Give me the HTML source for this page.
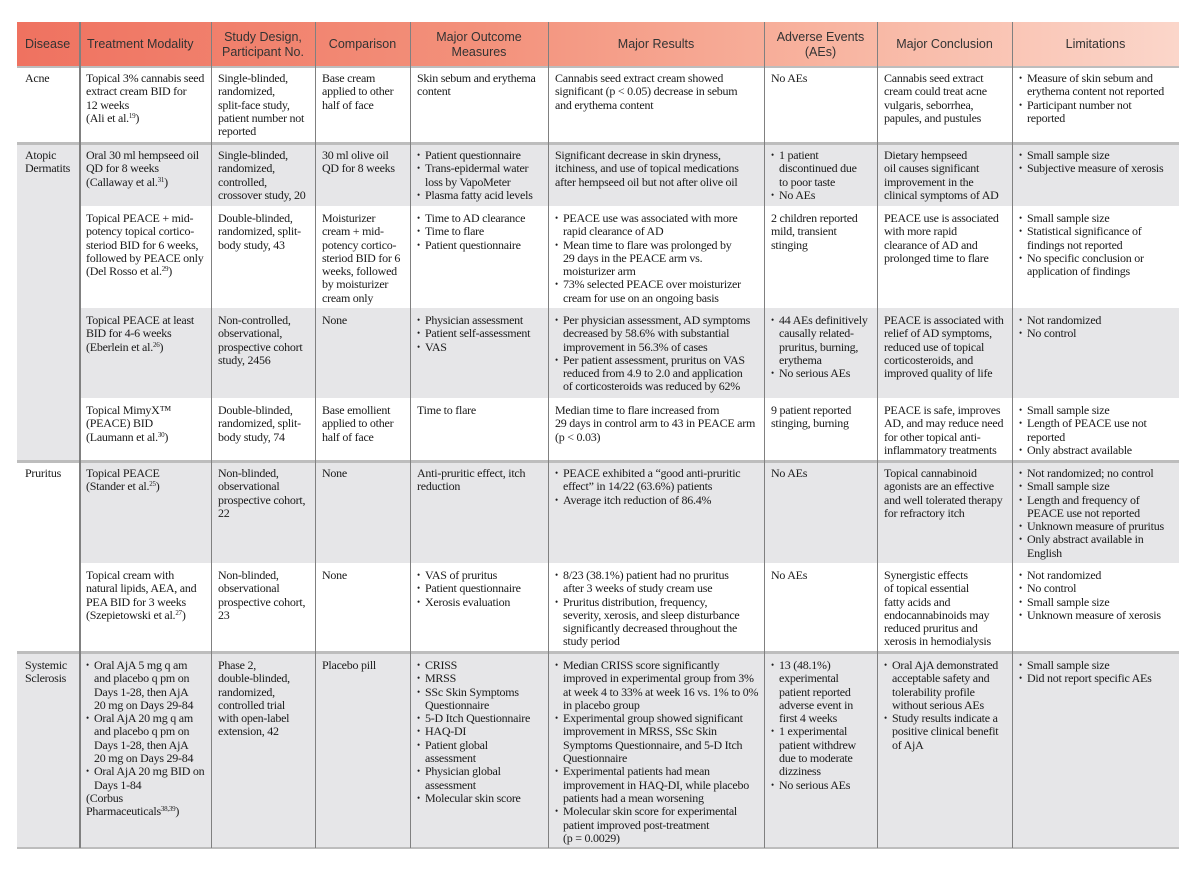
<!DOCTYPE html>
<html><head><meta charset="utf-8">
<style>
html,body{margin:0;padding:0;background:#fff;}
body{width:1200px;height:869px;position:relative;overflow:hidden;}
.s{position:absolute;}
.h{position:absolute;top:22px;height:45px;display:flex;align-items:center;justify-content:center;text-align:center;font:12.5px/15px "Liberation Sans",sans-serif;color:#333;}
.t{position:absolute;white-space:nowrap;font:12px/13.3px "Liberation Serif",serif;letter-spacing:-0.25px;color:#1a1a1a;}
.i{position:relative;padding-left:8px;}
.i:before{content:"\2022";position:absolute;left:0;top:0;font-size:9px;}
sup{font-size:7px;line-height:0;vertical-align:4px;}
.v{position:absolute;top:22px;height:826px;width:1px;background:#808080;}
.g{background:#e6e6e8;}
.sep{position:absolute;left:17px;width:1162px;height:3px;background:#bdbdbd;}
</style></head><body>
<div class="s" style="left:17px;top:22px;width:1162px;height:45px;background:linear-gradient(90deg,#ef7260 0%,#f3917b 40%,#f8b4a0 70%,#fbd6ca 100%);"></div>
<div class="s g" style="left:17px;top:143px;width:1162px;height:63px;"></div>
<div class="s g" style="left:17px;top:308px;width:1162px;height:90px;"></div>
<div class="s g" style="left:17px;top:143px;width:62px;height:318px;"></div>
<div class="s g" style="left:79px;top:461px;width:1100px;height:102px;"></div>
<div class="s g" style="left:17px;top:652px;width:1162px;height:196px;"></div>
<div class="sep" style="top:66px;height:2px;"></div>
<div class="sep" style="top:142px;"></div>
<div class="sep" style="top:460px;"></div>
<div class="sep" style="top:651px;"></div>
<div class="sep" style="top:847px;height:2px;"></div>
<div class="v" style="left:79px;width:2px;"></div>
<div class="v" style="left:211px;"></div>
<div class="v" style="left:315px;"></div>
<div class="v" style="left:410px;"></div>
<div class="v" style="left:548px;"></div>
<div class="v" style="left:764px;"></div>
<div class="v" style="left:877px;"></div>
<div class="v" style="left:1012px;"></div>

<div class="h" style="left:17px;width:62px;justify-content:flex-start;padding-left:8px;box-sizing:border-box;">Disease</div>
<div class="h" style="left:81px;width:130px;justify-content:flex-start;padding-left:6px;box-sizing:border-box;">Treatment Modality</div>
<div class="h" style="left:211px;width:104px;">Study Design,<br>Participant No.</div>
<div class="h" style="left:315px;width:95px;">Comparison</div>
<div class="h" style="left:410px;width:138px;">Major Outcome<br>Measures</div>
<div class="h" style="left:548px;width:216px;">Major Results</div>
<div class="h" style="left:764px;width:113px;">Adverse Events<br>(AEs)</div>
<div class="h" style="left:877px;width:135px;">Major Conclusion</div>
<div class="h" style="left:1012px;width:167px;">Limitations</div>

<div class="t" style="left:25px;top:72px;">Acne</div>
<div class="t" style="left:86px;top:72px;">Topical 3% cannabis seed<br>extract cream BID for<br>12 weeks<br>(Ali et al.<sup>19</sup>)</div>
<div class="t" style="left:218px;top:72px;">Single-blinded,<br>randomized,<br>split-face study,<br>patient number not<br>reported</div>
<div class="t" style="left:322px;top:72px;">Base cream<br>applied to other<br>half of face</div>
<div class="t" style="left:417px;top:72px;">Skin sebum and erythema<br>content</div>
<div class="t" style="left:555px;top:72px;">Cannabis seed extract cream showed<br>significant (p &lt; 0.05) decrease in sebum<br>and erythema content</div>
<div class="t" style="left:771px;top:72px;">No AEs</div>
<div class="t" style="left:884px;top:72px;">Cannabis seed extract<br>cream could treat acne<br>vulgaris, seborrhea,<br>papules, and pustules</div>
<div class="t" style="left:1019px;top:72px;"><div class="i">Measure of skin sebum and<br>erythema content not reported</div><div class="i">Participant number not<br>reported</div></div>

<div class="t" style="left:25px;top:149px;">Atopic<br>Dermatits</div>
<div class="t" style="left:86px;top:149px;">Oral 30 ml hempseed oil<br>QD for 8 weeks<br>(Callaway et al.<sup>31</sup>)</div>
<div class="t" style="left:218px;top:149px;">Single-blinded,<br>randomized,<br>controlled,<br>crossover study, 20</div>
<div class="t" style="left:322px;top:149px;">30 ml olive oil<br>QD for 8 weeks</div>
<div class="t" style="left:417px;top:149px;"><div class="i">Patient questionnaire</div><div class="i">Trans-epidermal water<br>loss by VapoMeter</div><div class="i">Plasma fatty acid levels</div></div>
<div class="t" style="left:555px;top:149px;">Significant decrease in skin dryness,<br>itchiness, and use of topical medications<br>after hempseed oil but not after olive oil</div>
<div class="t" style="left:771px;top:149px;"><div class="i">1 patient<br>discontinued due<br>to poor taste</div><div class="i">No AEs</div></div>
<div class="t" style="left:884px;top:149px;">Dietary hempseed<br>oil causes significant<br>improvement in the<br>clinical symptoms of AD</div>
<div class="t" style="left:1019px;top:149px;"><div class="i">Small sample size</div><div class="i">Subjective measure of xerosis</div></div>

<div class="t" style="left:86px;top:212px;">Topical PEACE + mid-<br>potency topical cortico-<br>steriod BID for 6 weeks,<br>followed by PEACE only<br>(Del Rosso et al.<sup>29</sup>)</div>
<div class="t" style="left:218px;top:212px;">Double-blinded,<br>randomized, split-<br>body study, 43</div>
<div class="t" style="left:322px;top:212px;">Moisturizer<br>cream + mid-<br>potency cortico-<br>steriod BID for 6<br>weeks, followed<br>by moisturizer<br>cream only</div>
<div class="t" style="left:417px;top:212px;"><div class="i">Time to AD clearance</div><div class="i">Time to flare</div><div class="i">Patient questionnaire</div></div>
<div class="t" style="left:555px;top:212px;"><div class="i">PEACE use was associated with more<br>rapid clearance of AD</div><div class="i">Mean time to flare was prolonged by<br>29 days in the PEACE arm vs.<br>moisturizer arm</div><div class="i">73% selected PEACE over moisturizer<br>cream for use on an ongoing basis</div></div>
<div class="t" style="left:771px;top:212px;">2 children reported<br>mild, transient<br>stinging</div>
<div class="t" style="left:884px;top:212px;">PEACE use is associated<br>with more rapid<br>clearance of AD and<br>prolonged time to flare</div>
<div class="t" style="left:1019px;top:212px;"><div class="i">Small sample size</div><div class="i">Statistical significance of<br>findings not reported</div><div class="i">No specific conclusion or<br>application of findings</div></div>

<div class="t" style="left:86px;top:314px;">Topical PEACE at least<br>BID for 4-6 weeks<br>(Eberlein et al.<sup>26</sup>)</div>
<div class="t" style="left:218px;top:314px;">Non-controlled,<br>observational,<br>prospective cohort<br>study, 2456</div>
<div class="t" style="left:322px;top:314px;">None</div>
<div class="t" style="left:417px;top:314px;"><div class="i">Physician assessment</div><div class="i">Patient self-assessment</div><div class="i">VAS</div></div>
<div class="t" style="left:555px;top:314px;"><div class="i">Per physician assessment, AD symptoms<br>decreased by 58.6% with substantial<br>improvement in 56.3% of cases</div><div class="i">Per patient assessment, pruritus on VAS<br>reduced from 4.9 to 2.0 and application<br>of corticosteroids was reduced by 62%</div></div>
<div class="t" style="left:771px;top:314px;"><div class="i">44 AEs definitively<br>causally related-<br>pruritus, burning,<br>erythema</div><div class="i">No serious AEs</div></div>
<div class="t" style="left:884px;top:314px;">PEACE is associated with<br>relief of AD symptoms,<br>reduced use of topical<br>corticosteroids, and<br>improved quality of life</div>
<div class="t" style="left:1019px;top:314px;"><div class="i">Not randomized</div><div class="i">No control</div></div>

<div class="t" style="left:86px;top:404px;">Topical MimyX™<br>(PEACE) BID<br>(Laumann et al.<sup>30</sup>)</div>
<div class="t" style="left:218px;top:404px;">Double-blinded,<br>randomized, split-<br>body study, 74</div>
<div class="t" style="left:322px;top:404px;">Base emollient<br>applied to other<br>half of face</div>
<div class="t" style="left:417px;top:404px;">Time to flare</div>
<div class="t" style="left:555px;top:404px;">Median time to flare increased from<br>29 days in control arm to 43 in PEACE arm<br>(p &lt; 0.03)</div>
<div class="t" style="left:771px;top:404px;">9 patient reported<br>stinging, burning</div>
<div class="t" style="left:884px;top:404px;">PEACE is safe, improves<br>AD, and may reduce need<br>for other topical anti-<br>inflammatory treatments</div>
<div class="t" style="left:1019px;top:404px;"><div class="i">Small sample size</div><div class="i">Length of PEACE use not<br>reported</div><div class="i">Only abstract available</div></div>

<div class="t" style="left:25px;top:467px;">Pruritus</div>
<div class="t" style="left:86px;top:467px;">Topical PEACE<br>(Stander et al.<sup>25</sup>)</div>
<div class="t" style="left:218px;top:467px;">Non-blinded,<br>observational<br>prospective cohort,<br>22</div>
<div class="t" style="left:322px;top:467px;">None</div>
<div class="t" style="left:417px;top:467px;">Anti-pruritic effect, itch<br>reduction</div>
<div class="t" style="left:555px;top:467px;"><div class="i">PEACE exhibited a “good anti-pruritic<br>effect” in 14/22 (63.6%) patients</div><div class="i">Average itch reduction of 86.4%</div></div>
<div class="t" style="left:771px;top:467px;">No AEs</div>
<div class="t" style="left:884px;top:467px;">Topical cannabinoid<br>agonists are an effective<br>and well tolerated therapy<br>for refractory itch</div>
<div class="t" style="left:1019px;top:467px;"><div class="i">Not randomized; no control</div><div class="i">Small sample size</div><div class="i">Length and frequency of<br>PEACE use not reported</div><div class="i">Unknown measure of pruritus</div><div class="i">Only abstract available in<br>English</div></div>

<div class="t" style="left:86px;top:569px;">Topical cream with<br>natural lipids, AEA, and<br>PEA BID for 3 weeks<br>(Szepietowski et al.<sup>27</sup>)</div>
<div class="t" style="left:218px;top:569px;">Non-blinded,<br>observational<br>prospective cohort,<br>23</div>
<div class="t" style="left:322px;top:569px;">None</div>
<div class="t" style="left:417px;top:569px;"><div class="i">VAS of pruritus</div><div class="i">Patient questionnaire</div><div class="i">Xerosis evaluation</div></div>
<div class="t" style="left:555px;top:569px;"><div class="i">8/23 (38.1%) patient had no pruritus<br>after 3 weeks of study cream use</div><div class="i">Pruritus distribution, frequency,<br>severity, xerosis, and sleep disturbance<br>significantly decreased throughout the<br>study period</div></div>
<div class="t" style="left:771px;top:569px;">No AEs</div>
<div class="t" style="left:884px;top:569px;">Synergistic effects<br>of topical essential<br>fatty acids and<br>endocannabinoids may<br>reduced pruritus and<br>xerosis in hemodialysis</div>
<div class="t" style="left:1019px;top:569px;"><div class="i">Not randomized</div><div class="i">No control</div><div class="i">Small sample size</div><div class="i">Unknown measure of xerosis</div></div>

<div class="t" style="left:25px;top:659px;">Systemic<br>Sclerosis</div>
<div class="t" style="left:86px;top:659px;"><div class="i">Oral AjA 5 mg q am<br>and placebo q pm on<br>Days 1-28, then AjA<br>20 mg on Days 29-84</div><div class="i">Oral AjA 20 mg q am<br>and placebo q pm on<br>Days 1-28, then AjA<br>20 mg on Days 29-84</div><div class="i">Oral AjA 20 mg BID on<br>Days 1-84</div>(Corbus<br>Pharmaceuticals<sup>38,39</sup>)</div>
<div class="t" style="left:218px;top:659px;">Phase 2,<br>double-blinded,<br>randomized,<br>controlled trial<br>with open-label<br>extension, 42</div>
<div class="t" style="left:322px;top:659px;">Placebo pill</div>
<div class="t" style="left:417px;top:659px;"><div class="i">CRISS</div><div class="i">MRSS</div><div class="i">SSc Skin Symptoms<br>Questionnaire</div><div class="i">5-D Itch Questionnaire</div><div class="i">HAQ-DI</div><div class="i">Patient global<br>assessment</div><div class="i">Physician global<br>assessment</div><div class="i">Molecular skin score</div></div>
<div class="t" style="left:555px;top:659px;"><div class="i">Median CRISS score significantly<br>improved in experimental group from 3%<br>at week 4 to 33% at week 16 vs. 1% to 0%<br>in placebo group</div><div class="i">Experimental group showed significant<br>improvement in MRSS, SSc Skin<br>Symptoms Questionnaire, and 5-D Itch<br>Questionnaire</div><div class="i">Experimental patients had mean<br>improvement in HAQ-DI, while placebo<br>patients had a mean worsening</div><div class="i">Molecular skin score for experimental<br>patient improved post-treatment<br>(p = 0.0029)</div></div>
<div class="t" style="left:771px;top:659px;"><div class="i">13 (48.1%)<br>experimental<br>patient reported<br>adverse event in<br>first 4 weeks</div><div class="i">1 experimental<br>patient withdrew<br>due to moderate<br>dizziness</div><div class="i">No serious AEs</div></div>
<div class="t" style="left:884px;top:659px;"><div class="i">Oral AjA demonstrated<br>acceptable safety and<br>tolerability profile<br>without serious AEs</div><div class="i">Study results indicate a<br>positive clinical benefit<br>of AjA</div></div>
<div class="t" style="left:1019px;top:659px;"><div class="i">Small sample size</div><div class="i">Did not report specific AEs</div></div>
</body></html>
